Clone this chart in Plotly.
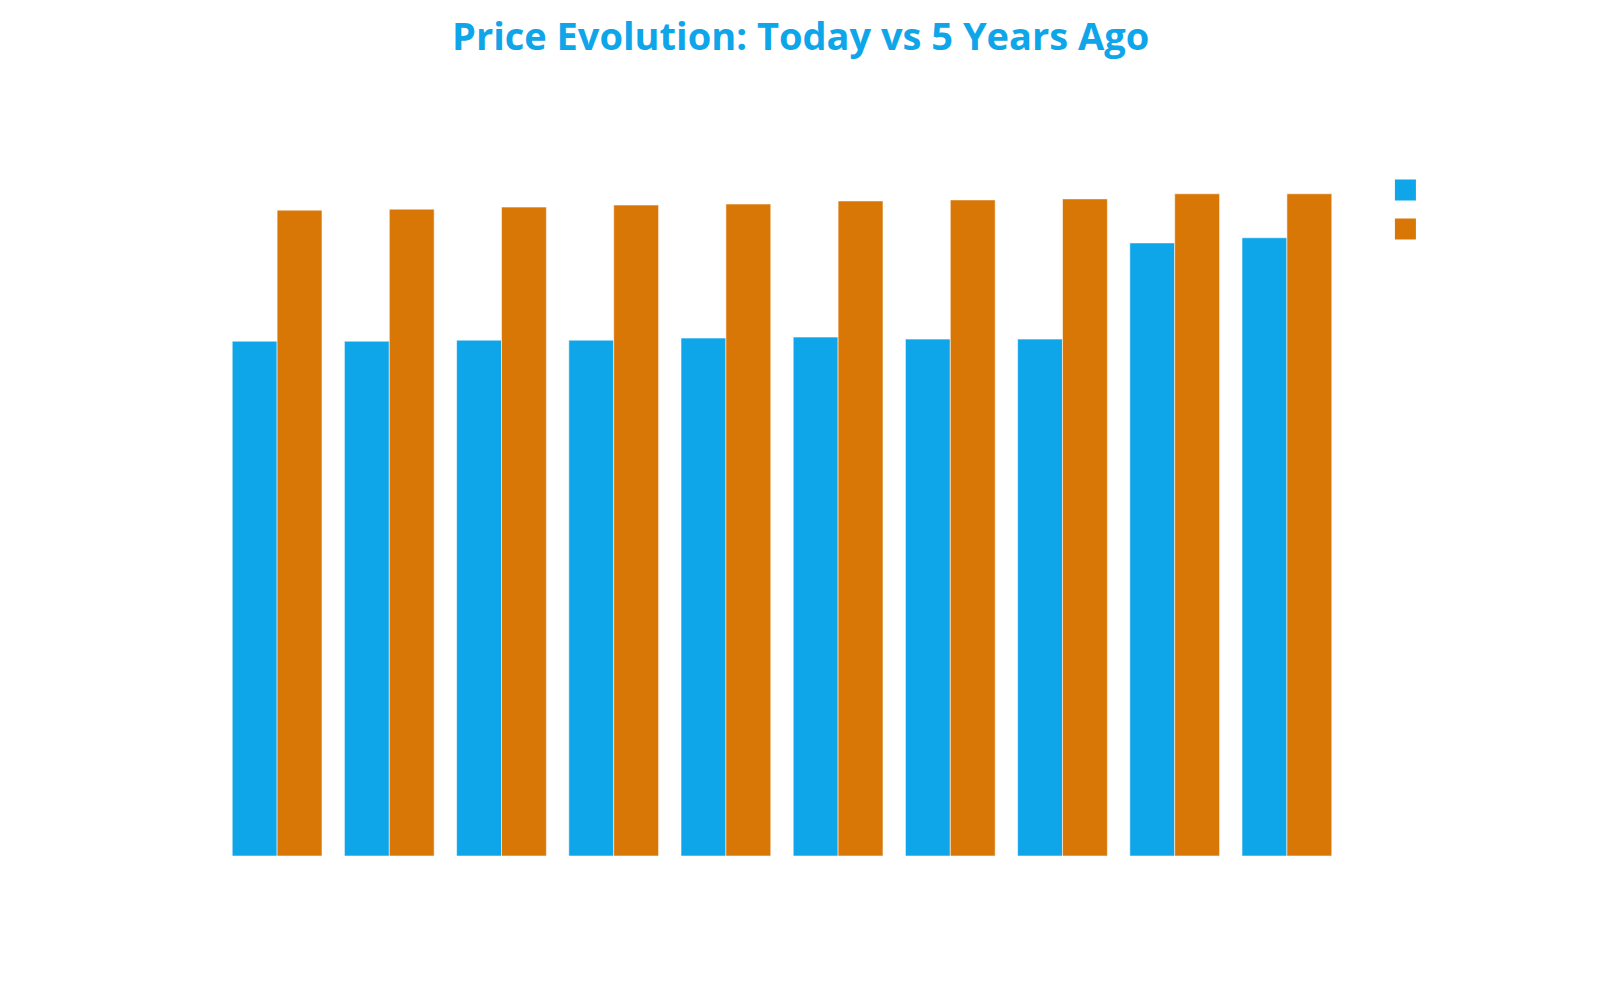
import plotly.graph_objects as go

# product categories (labels are not visible in the reference)
categories = ["Item 1", "Item 2", "Item 3", "Item 4", "Item 5",
              "Item 6", "Item 7", "Item 8", "Item 9", "Item 10"]

prices_5y_ago = [50.3, 50.3, 50.4, 50.4, 50.6, 50.7, 50.5, 50.5, 59.9, 60.4]
prices_today = [63.1, 63.2, 63.4, 63.6, 63.7, 64.0, 64.1, 64.2, 64.7, 64.7]

series_names = ["5 Years Ago", "Today"]

BLUE = "#0EA5E9"
ORANGE = "#D97706"
colors = [BLUE, ORANGE]

fig = go.Figure()

for name, values, color in zip(series_names, [prices_5y_ago, prices_today], colors):
    fig.add_trace(go.Bar(
        x=categories,
        y=values,
        name=name,
        legendgroup=name,
        showlegend=False,
        marker=dict(color=color, line=dict(color="rgba(255,255,255,0.55)", width=1)),
    ))

# legend-only entries so the swatches come out as large squares
for name, color in zip(series_names, colors):
    fig.add_trace(go.Scatter(
        x=[None],
        y=[None],
        name=name,
        legendgroup=name,
        mode="markers",
        marker=dict(symbol="square", size=16, color=color,
                    line=dict(color=color, width=5)),
    ))

fig.update_layout(
    width=1600,
    height=1000,
    barmode="group",
    bargap=0.2,
    bargroupgap=0,
    paper_bgcolor="white",
    plot_bgcolor="white",
    font=dict(family="Open Sans", color="white", size=20),
    title=dict(
        text="<b>Price Evolution: Today vs 5 Years Ago</b>",
        x=0.4954,
        xanchor="center",
        y=0.971,
        yanchor="middle",
        font=dict(family="Open Sans", size=38, color=BLUE),
    ),
    margin=dict(l=213, r=265, t=152, b=152),
    legend=dict(x=1.0378, y=0.985, xanchor="left", yanchor="top",
                itemsizing="trace",
                font=dict(color="white", size=20)),
    showlegend=True,
)

fig.update_xaxes(showgrid=False, zeroline=False, showline=False,
                 tickfont=dict(color="white"))
fig.update_yaxes(range=[0, 68], showgrid=False, zeroline=False, showline=False,
                 tickfont=dict(color="white"))

fig.write_html("out.html")
